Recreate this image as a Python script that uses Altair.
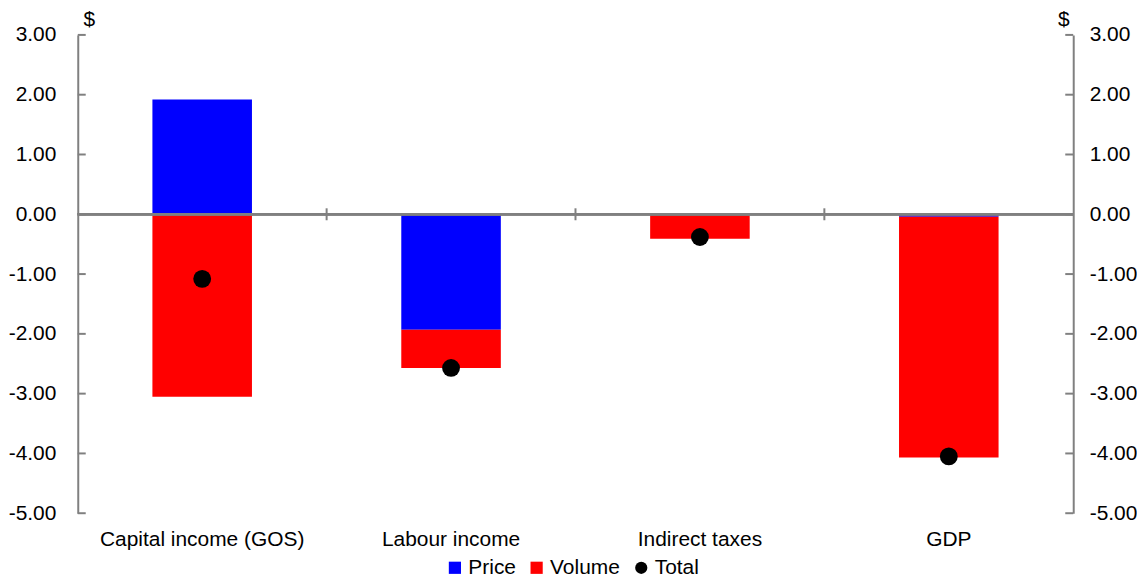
import altair as alt
import pandas as pd

categories = ["Capital income (GOS)", "Labour income", "Indirect taxes", "GDP"]
price = [1.92, -1.93, 0.0, -0.04]
volume = [-3.05, -0.64, -0.41, -4.03]
total = [-1.08, -2.57, -0.38, -4.05]
series_names = ["Price", "Volume", "Total"]
series_colors = ["#0000FF", "#FF0000", "#000000"]
series_shapes = ["square", "square", "circle"]
tick_values = [3, 2, 1, 0, -1, -2, -3, -4, -5]

W, H = 999, 480
FONT = "Liberation Sans"
FS = 21
GREY = "#808080"
PAD_INNER, PAD_OUTER = 0.6, 0.3
STEP = W / (len(categories) - PAD_INNER + 2 * PAD_OUTER)

bars_df = pd.DataFrame(
    [{"category": c, "series": "Price", "value": v, "ord": 0} for c, v in zip(categories, price)]
    + [{"category": c, "series": "Volume", "value": v, "ord": 1} for c, v in zip(categories, volume)]
)
total_df = pd.DataFrame({"category": categories, "series": "Total", "value": total})
ticks_df = pd.DataFrame({"v": tick_values})
bound_df = pd.DataFrame({"category": categories[1:]})

yscale = alt.Scale(domain=[-5, 3], nice=False, zero=False)
xscale = alt.Scale(domain=categories, paddingInner=PAD_INNER, paddingOuter=PAD_OUTER)
cscale = alt.Scale(domain=series_names, range=series_colors)
sscale = alt.Scale(domain=series_names, range=series_shapes)
label_expr = "replace(format(datum.value, '.2f'), '\u2212', '-')"

legend = alt.Legend(
    title=None, orient="none", legendX=368, legendY=524, direction="horizontal",
    labelFontSize=FS, labelFont=FONT, labelColor="black", symbolSize=150,
    symbolStrokeWidth=0, columnPadding=10, labelOffset=3, labelLimit=0,
)

title_kw = dict(title="$", titleAngle=0, titleY=-15, titleAlign="center",
                titleBaseline="middle", titleFontSize=FS, titleFont=FONT,
                titleFontWeight="normal", titleColor="black")

bars = alt.Chart(bars_df).mark_bar(size=STEP * (1 - PAD_INNER)).encode(
    x=alt.X("category:N", scale=xscale, sort=categories, title=None,
            axis=alt.Axis(orient="bottom", domain=False, ticks=False, labelAngle=0,
                          labelFontSize=FS, labelFont=FONT, labelColor="black",
                          labelPadding=15, labelLimit=0)),
    y=alt.Y("value:Q", scale=yscale, stack="zero",
            axis=alt.Axis(orient="left", values=tick_values, labelExpr=label_expr,
                          ticks=False, domainColor=GREY, domainWidth=2, grid=False,
                          labelFontSize=FS, labelFont=FONT, labelColor="black",
                          labelPadding=22, titleX=11, **title_kw)),
    color=alt.Color("series:N", scale=cscale, legend=legend),
    order=alt.Order("ord:Q"),
)

zero_line = alt.Chart(ticks_df).mark_rule(color=GREY, strokeWidth=2).encode(
    y=alt.datum(0, scale=yscale, axis=None)
)

bound_ticks = alt.Chart(bound_df).mark_rule(color=GREY, strokeWidth=2).encode(
    x=alt.X("category:N", scale=xscale, bandPosition=0),
    xOffset=alt.value(-STEP * PAD_INNER / 2),
    y=alt.datum(-0.1, scale=yscale, axis=None),
    y2=alt.datum(0.1),
)

left_ticks = alt.Chart(ticks_df).mark_rule(color=GREY, strokeWidth=2).encode(
    y=alt.Y("v:Q", scale=yscale, axis=None),
    x=alt.value(0), x2=alt.value(8),
)

right_ticks = alt.Chart(ticks_df).mark_rule(color=GREY, strokeWidth=2).encode(
    y=alt.Y("v:Q", scale=yscale,
            axis=alt.Axis(orient="right", values=tick_values, labelExpr=label_expr,
                          ticks=False, domainColor=GREY, domainWidth=2, grid=False,
                          labelFontSize=FS, labelFont=FONT, labelColor="black",
                          labelPadding=16, titleX=-10, **title_kw)),
    x=alt.value(W - 8), x2=alt.value(W),
)

points = alt.Chart(total_df).mark_point(filled=True, opacity=1, size=320).encode(
    x=alt.X("category:N", scale=xscale, sort=categories),
    y=alt.Y("value:Q", scale=yscale, axis=None),
    color=alt.Color("series:N", scale=cscale, legend=legend),
    shape=alt.Shape("series:N", scale=sscale, legend=legend),
)

chart = alt.layer(bars, zero_line, bound_ticks, left_ticks, right_ticks, points).resolve_axis(
    y="independent"
).properties(
    width=W, height=H,
    padding={"left": 0, "right": 0, "top": 0, "bottom": 0},
).configure_view(stroke=None).configure_legend(
    labelFont=FONT
)

chart.save("out.html", embed_options={"renderer": "svg", "actions": False})
